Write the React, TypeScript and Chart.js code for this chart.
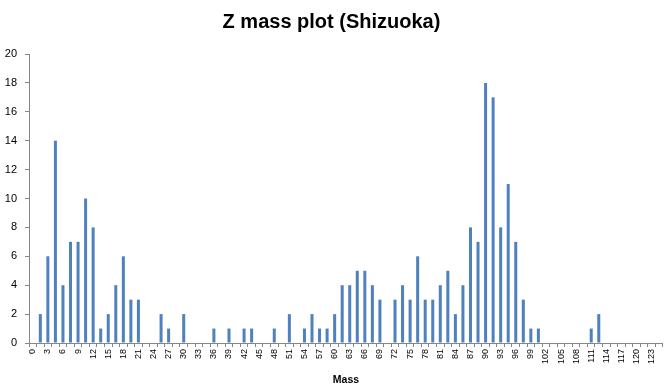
import React, { useEffect, useRef } from "react";
import { Chart, registerables } from "chart.js";

Chart.register(...registerables);

const categories: string[] = [
  "0", "1.5", "3", "4.5", "6", "7.5", "9", "10.5", "12", "13.5",
  "15", "16.5", "18", "19.5", "21", "22.5", "24", "25.5", "27", "28.5",
  "30", "31.5", "33", "34.5", "36", "37.5", "39", "40.5", "42", "43.5",
  "45", "46.5", "48", "49.5", "51", "52.5", "54", "55.5", "57", "58.5",
  "60", "61.5", "63", "64.5", "66", "67.5", "69", "70.5", "72", "73.5",
  "75", "76.5", "78", "79.5", "81", "82.5", "84", "85.5", "87", "88.5",
  "90", "91.5", "93", "94.5", "96", "97.5", "99", "100.5", "102", "103.5",
  "105", "106.5", "108", "109.5", "111", "112.5", "114", "115.5", "117", "118.5",
  "120", "121.5", "123", "124.5",
];

const counts: number[] = [
  0, 2, 6, 14, 4, 7, 7, 10, 8, 1,
  2, 4, 6, 3, 3, 0, 0, 2, 1, 0,
  2, 0, 0, 0, 1, 0, 1, 0, 1, 1,
  0, 0, 1, 0, 2, 0, 1, 2, 1, 1,
  2, 4, 4, 5, 5, 4, 3, 0, 3, 4,
  3, 6, 3, 3, 4, 5, 2, 4, 8, 7,
  18, 17, 8, 11, 7, 3, 1, 1, 0, 0,
  0, 0, 0, 0, 1, 2, 0, 0, 0, 0,
  0, 0, 0, 0,
];

const titleText = "Z mass plot (Shizuoka)";
const xTitle = "Mass";
const yMin = 0;
const yMax = 20;
const yStep = 2;

export default function App() {
  const canvasRef = useRef<HTMLCanvasElement | null>(null);

  useEffect(() => {
    if (!canvasRef.current) return;
    const axisColor = "#868686";
    const chart = new Chart(canvasRef.current, {
      type: "bar",
      data: {
        labels: categories,
        datasets: [
          {
            data: counts,
            backgroundColor: "#4F81BD",
            borderWidth: 0,
            barPercentage: 0.4,
            categoryPercentage: 1.0,
          },
        ],
      },
      options: {
        animation: false,
        responsive: true,
        maintainAspectRatio: false,
        layout: { padding: { left: 0, right: 9, top: 0, bottom: 0 } },
        plugins: {
          legend: { display: false },
          tooltip: { enabled: false },
          title: {
            display: true,
            text: titleText,
            color: "#000000",
            font: { family: "'Liberation Sans', Arial, sans-serif", size: 20, weight: "bold", lineHeight: 1.2 },
            padding: { top: 10, bottom: 20 },
          },
        },
        scales: {
          x: {
            offset: true,
            grid: {
              display: true,
              offset: true,
              drawOnChartArea: false,
              drawTicks: true,
              tickLength: 4,
              color: axisColor,
            },
            border: { display: true, color: axisColor },
            ticks: {
              autoSkip: false,
              minRotation: 90,
              maxRotation: 90,
              padding: 2,
              color: "#000000",
              font: { family: "'Liberation Sans', Arial, sans-serif", size: 9 },
              callback: (_v: any, i: number) => (i % 2 === 0 ? categories[i] : ""),
            },
            title: {
              display: true,
              text: xTitle,
              color: "#000000",
              font: { family: "'Liberation Sans', Arial, sans-serif", size: 10.5, weight: "bold" },
              padding: { top: 0, bottom: 3 },
            },
            afterFit: (scale: any) => {
              scale.height = 46;
            },
          },
          y: {
            min: yMin,
            max: yMax,
            grid: {
              display: true,
              drawOnChartArea: false,
              drawTicks: true,
              tickLength: 4,
              color: axisColor,
            },
            border: { display: true, color: axisColor },
            ticks: {
              stepSize: yStep,
              padding: 8,
              color: "#000000",
              font: { family: "'Liberation Sans', Arial, sans-serif", size: 11 },
            },
            afterFit: (scale: any) => {
              scale.width = 29;
            },
          },
        },
      },
    });
    return () => chart.destroy();
  }, []);

  return (
    <>
      <style>{`body{margin:0;background:#ffffff;}`}</style>
      <div style={{ width: 672, height: 389, position: "relative" }}>
        <canvas ref={canvasRef} />
      </div>
    </>
  );
}
